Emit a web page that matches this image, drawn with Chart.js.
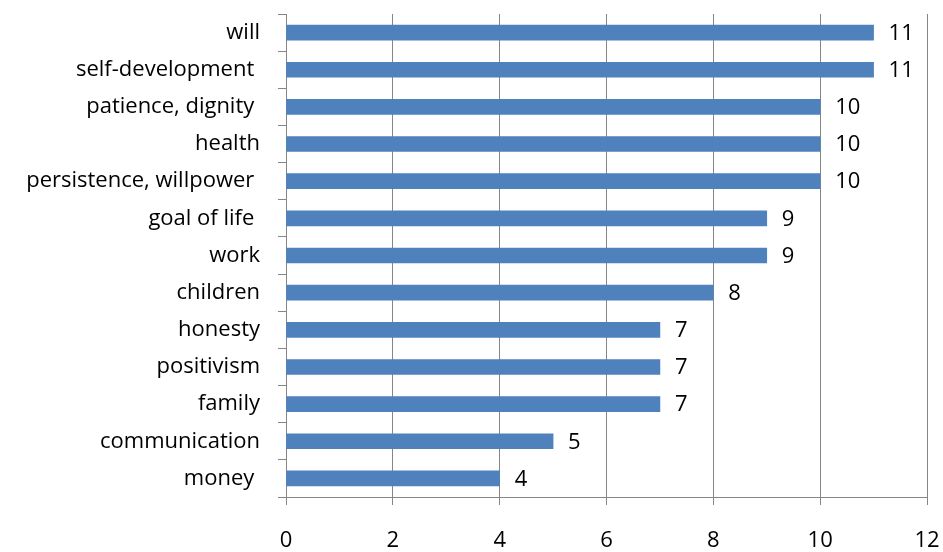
<!DOCTYPE html>
<html>
<head>
<meta charset="utf-8">
<script src="https://cdn.jsdelivr.net/npm/chart.js@4"></script>
<style>
	html, body { margin: 0; padding: 0; background: #fff; }
	#wrap { width: 943px; height: 552px; position: relative; }
</style>
</head>
<body>
<div id="wrap"><canvas id="chart"></canvas></div>
<script>
let categories = ['will', 'self-development ', 'patience, dignity ', 'health', 'persistence, willpower ', 'goal of life ', 'work', 'children', 'honesty', 'positivism', 'family', 'communication', 'money '];
let values = [11, 11, 10, 10, 10, 9, 9, 8, 7, 7, 7, 5, 4];
let x_ticks = [0, 2, 4, 6, 8, 10, 12];

let font_family = '"Open Sans", "Liberation Sans", sans-serif';
let font_size = 22;

// draws the numbers right of each bar
let value_labels = {
	id: 'value_labels',
	afterDatasetsDraw: function(chart)
	{
		let ctx = chart.ctx;
		let meta = chart.getDatasetMeta(0);
		ctx.save();
		ctx.font = font_size + 'px ' + font_family;
		ctx.fillStyle = '#000';
		ctx.textAlign = 'left';
		ctx.textBaseline = 'middle';
		meta.data.forEach(function(bar, i)
		{
			ctx.fillText(String(values[i]), bar.x + 15, bar.y + 1);
		});
		ctx.restore();
	}
};

new Chart(document.getElementById('chart'),
{
	type: 'bar',
	data:
	{
		labels: categories,
		datasets: [
		{
			data: values,
			backgroundColor: '#4F81BD',
			barThickness: 15
		}]
	},
	options:
	{
		indexAxis: 'y',
		responsive: true,
		maintainAspectRatio: false,
		animation: false,
		layout: { padding: { top: 14, right: 16, bottom: 0, left: 0 } },
		plugins:
		{
			legend: { display: false },
			tooltip: { enabled: false }
		},
		scales:
		{
			x:
			{
				min: 0,
				max: 12,
				afterBuildTicks: function(axis)
				{
					axis.ticks = x_ticks.map(function(v) { return { value: v }; });
				},
				grid: { color: '#868686', lineWidth: 1, tickLength: 8 },
				border: { color: '#868686', width: 1 },
				ticks: { color: '#000', font: { family: font_family, size: font_size }, padding: 23, maxRotation: 0 },
				afterFit: function(axis)
				{
					axis.height = 55;
					axis.paddingLeft = 0;
					axis.paddingRight = 0;
				}
			},
			y:
			{
				grid: { drawOnChartArea: false, color: '#868686', tickLength: 8, offset: true },
				border: { color: '#868686', width: 1 },
				ticks: { color: '#000', font: { family: font_family, size: font_size }, padding: 18, autoSkip: false },
				afterFit: function(axis)
				{
					axis.width = 286;
					axis.paddingTop = 0;
					axis.paddingBottom = 0;
				}
			}
		}
	},
	plugins: [value_labels]
});
</script>
</body>
</html>
